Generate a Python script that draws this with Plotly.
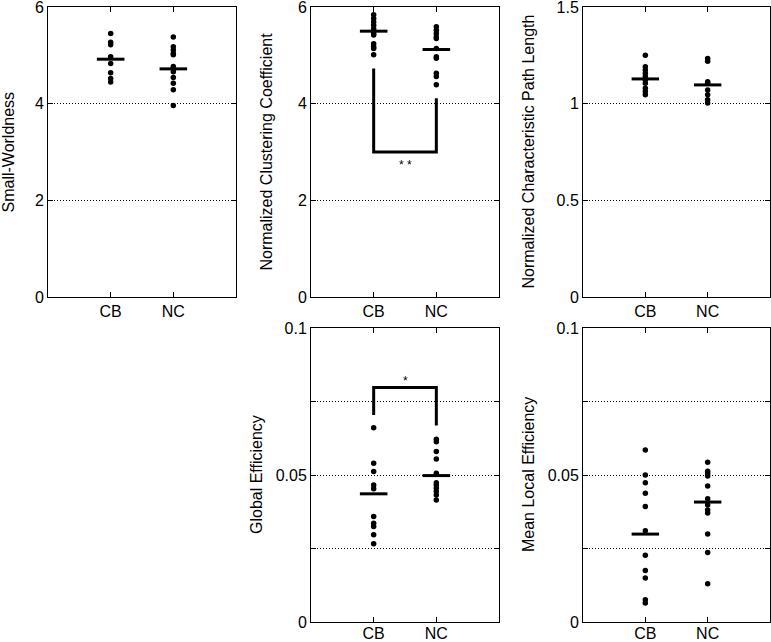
import plotly.graph_objects as go

# ---------------- data ----------------
groups = ["CB", "NC"]
group_pos = [1, 2]

sw_cb = [5.45, 5.27, 5.22, 4.97, 4.83, 4.64, 4.52, 4.45]
sw_nc = [5.38, 5.18, 5.11, 5.04, 5.01, 4.77, 4.73, 4.66, 4.54, 4.42, 4.29, 3.96]
sw_mean = [4.92, 4.72]

cc_cb = [5.84, 5.76, 5.69, 5.62, 5.55, 5.45, 5.42, 5.24, 5.18, 5.14, 5.01]
cc_nc = [5.59, 5.52, 5.45, 5.38, 5.35, 5.14, 4.97, 4.94, 4.63, 4.56, 4.39]
cc_mean = [5.50, 5.12]
cc_bracket = [4.73, 3.0, 3.0, 4.11]   # CB top, bar, bar, NC top
cc_sig = "* *"
cc_sig_y = 2.74

pl_cb = [1.251, 1.191, 1.174, 1.157, 1.140, 1.123, 1.105, 1.080, 1.063, 1.046]
pl_nc = [1.234, 1.220, 1.114, 1.105, 1.071, 1.046, 1.020, 1.003]
pl_mean = [1.128, 1.097]

ge_cb = [0.0661, 0.0540, 0.0512, 0.0466, 0.0453, 0.0359, 0.0336, 0.0325, 0.0297, 0.0266]
ge_nc = [0.0622, 0.0613, 0.0580, 0.0554, 0.0506, 0.0474, 0.0466, 0.0455, 0.0444, 0.0432, 0.0415]
ge_mean = [0.0436, 0.0498]
ge_bracket = [0.0704, 0.0798, 0.0798, 0.0668]
ge_sig = "*"
ge_sig_y = 0.0820

le_cb = [0.0585, 0.0500, 0.0474, 0.0438, 0.0393, 0.0310, 0.0227, 0.0175, 0.0150, 0.0076, 0.0065]
le_nc = [0.0543, 0.0513, 0.0505, 0.0497, 0.0463, 0.0419, 0.0398, 0.0381, 0.0371, 0.0299, 0.0236, 0.0130]
le_mean = [0.0299, 0.0408]

titles = ["Small-Worldness", "Normalized Clustering Coefficient",
          "Normalized Characteristic Path Length", "Global Efficiency",
          "Mean Local Efficiency"]

# ---------------- figure ----------------
W, H = 771, 642
FONT = "Liberation Sans, Arial, Helvetica, sans-serif"
fig = go.Figure()

half = 0.22

panels = [
    dict(cb=sw_cb, nc=sw_nc, mean=sw_mean, br=None),
    dict(cb=cc_cb, nc=cc_nc, mean=cc_mean, br=cc_bracket, sig=cc_sig, sigy=cc_sig_y),
    dict(cb=pl_cb, nc=pl_nc, mean=pl_mean, br=None),
    dict(cb=ge_cb, nc=ge_nc, mean=ge_mean, br=ge_bracket, sig=ge_sig, sigy=ge_sig_y),
    dict(cb=le_cb, nc=le_nc, mean=le_mean, br=None),
]

for i, p in enumerate(panels):
    n = i + 1
    xa = "x" if n == 1 else f"x{n}"
    ya = "y" if n == 1 else f"y{n}"
    if p["br"] is not None:
        fig.add_trace(go.Scatter(
            x=[group_pos[0], group_pos[0], group_pos[1], group_pos[1]], y=p["br"],
            mode="lines", line=dict(color="black", width=3), xaxis=xa, yaxis=ya,
            showlegend=False, hoverinfo="skip"))
        fig.add_annotation(x=sum(group_pos) / 2, y=p["sigy"], text=p["sig"], showarrow=False,
                           xref=xa, yref=ya, font=dict(size=12, family=FONT, color="black"))
    for gi, vals in enumerate([p["cb"], p["nc"]]):
        fig.add_trace(go.Scatter(
            x=[group_pos[gi]] * len(vals), y=vals, mode="markers",
            marker=dict(color="black", size=5.5), xaxis=xa, yaxis=ya,
            showlegend=False, name=groups[gi], hoverinfo="y"))
        fig.add_trace(go.Scatter(
            x=[group_pos[gi] - half, group_pos[gi] + half],
            y=[p["mean"][gi], p["mean"][gi]], mode="lines",
            line=dict(color="black", width=3), xaxis=xa, yaxis=ya,
            showlegend=False, hoverinfo="skip"))

# domains in pixels
xdom = [(48, 236), (311, 499), (583, 770), (311, 499), (583, 770)]
ydom = [(7, 297), (7, 297), (7, 297), (328, 622), (328, 622)]
yranges = [[0, 6], [0, 6], [0, 1.5], [0, 0.1], [0, 0.1]]
yticks = [[0, 2, 4, 6], [0, 2, 4, 6], [0, 0.5, 1, 1.5],
          [0, 0.025, 0.05, 0.075, 0.1], [0, 0.025, 0.05, 0.075, 0.1]]
ytext = [["0", "2", "4", "6"], ["0", "2", "4", "6"], ["0", "0.5", "1", "1.5"],
         ["0", "", "0.05", "", "0.1"], ["0", "", "0.05", "", "0.1"]]
title_x = [7.5, 265.5, 527.5, 256, 528]
xlabel_shift = [0, 0, 0, -3, -3]

axis_common = dict(showline=True, linecolor="black", linewidth=1, mirror="ticks",
                   ticks="inside", ticklen=5, tickcolor="black", tickwidth=1,
                   zeroline=False, automargin=False, ticklabeloverflow="allow",
                   tickfont=dict(size=16, family=FONT, color="black"))

for i in range(5):
    n = i + 1
    xk = "xaxis" if n == 1 else f"xaxis{n}"
    yk = "yaxis" if n == 1 else f"yaxis{n}"
    x0, x1 = xdom[i]
    y0, y1 = ydom[i]
    fig.layout[xk] = dict(
        axis_common, domain=[x0 / W, x1 / W], range=[0, 3],
        tickvals=group_pos, ticktext=groups, showgrid=False,
        ticklabelstandoff=xlabel_shift[i],
        anchor="y" if n == 1 else f"y{n}")
    fig.layout[yk] = dict(
        axis_common, domain=[(H - y1) / H, (H - y0) / H], range=yranges[i],
        tickvals=yticks[i], ticktext=ytext[i], showgrid=True,
        gridcolor="black", gridwidth=1, griddash="1px,2px",
        anchor="x" if n == 1 else f"x{n}")
    fig.add_annotation(x=title_x[i] / W, y=1 - (y0 + y1) / 2 / H, xref="paper", yref="paper",
                       text=titles[i], textangle=-90, showarrow=False,
                       xanchor="center", yanchor="middle",
                       font=dict(size=16, family=FONT, color="black"))

fig.update_layout(width=W, height=H, margin=dict(l=0, r=0, t=0, b=0),
                  paper_bgcolor="white", plot_bgcolor="white",
                  font=dict(family=FONT, color="black"))

fig.write_html("out.html", config={"displayModeBar": False},
               post_script="document.body.style.margin='0';document.body.style.overflow='hidden';")
